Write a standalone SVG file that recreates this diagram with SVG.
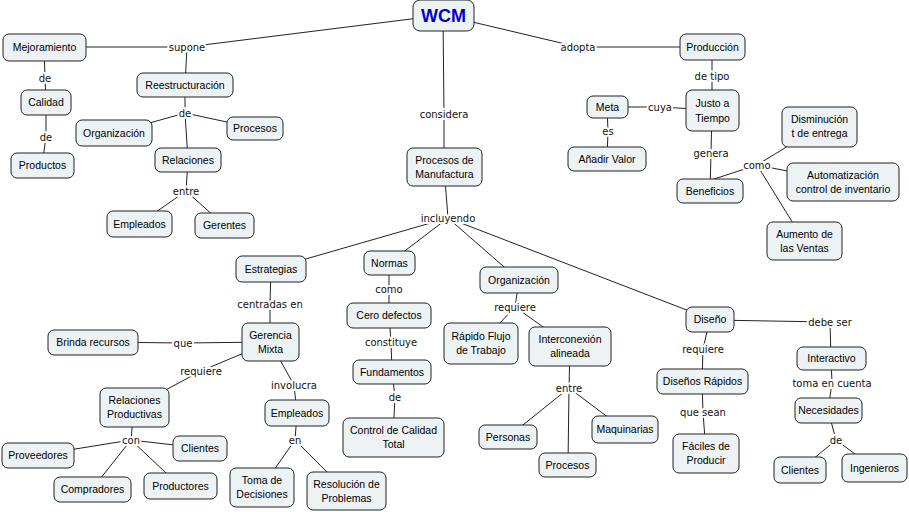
<svg xmlns="http://www.w3.org/2000/svg" width="909" height="512" viewBox="0 0 909 512">
<style>
.bg{fill:#ffffff}
.n rect{fill:#edf2f5;stroke:#222;stroke-width:1}
.n text{font-family:"Liberation Sans",Arial,sans-serif;font-size:10.5px;fill:#000;text-anchor:middle}
.c line,.c polyline{stroke:#222;stroke-width:1;fill:none}
.l{font-family:"DejaVu Sans",Verdana,sans-serif;font-size:10px;fill:#111;text-anchor:middle;paint-order:stroke;stroke:#fff;stroke-width:4px;stroke-linejoin:round}
#wcm text{font-size:18px;font-weight:bold;fill:#0000cc}
</style>
<rect class="bg" x="0" y="0" width="909" height="512"/>
<g id="connectors" class="c">
<polyline points="443,15 187,47 44,47"/>
<line x1="187" y1="47" x2="185" y2="85"/>
<polyline points="443,15 444,114 444,167"/>
<polyline points="443,15 578,47 712,47"/>
<polyline points="44,47 45,78 46,102"/>
<polyline points="46,102 46,137 42,165"/>
<line x1="185" y1="85" x2="185" y2="113"/>
<line x1="185" y1="113" x2="114" y2="133"/>
<line x1="185" y1="113" x2="255" y2="128"/>
<line x1="185" y1="113" x2="188" y2="160"/>
<line x1="188" y1="160" x2="186" y2="191"/>
<line x1="186" y1="191" x2="139" y2="224"/>
<line x1="186" y1="191" x2="224" y2="225"/>
<polyline points="712,47 712,76 712,110"/>
<polyline points="712,110 660,107 607,107"/>
<polyline points="607,107 608,131 607,159"/>
<polyline points="712,110 711,153 710,191"/>
<line x1="711" y1="180" x2="757" y2="165"/>
<line x1="757" y1="165" x2="819" y2="127"/>
<line x1="757" y1="165" x2="843" y2="182"/>
<line x1="757" y1="165" x2="804" y2="241"/>
<line x1="444" y1="167" x2="448" y2="218"/>
<line x1="448" y1="218" x2="271" y2="269"/>
<line x1="448" y1="218" x2="389" y2="263"/>
<line x1="448" y1="218" x2="519" y2="280"/>
<line x1="448" y1="218" x2="710" y2="319"/>
<polyline points="271,269 270,304 270,342"/>
<polyline points="270,342 183,343 93,342"/>
<polyline points="270,342 201,371 134,407"/>
<polyline points="270,342 294,385 297,413"/>
<line x1="134" y1="407" x2="131" y2="440"/>
<line x1="131" y1="440" x2="38" y2="455"/>
<line x1="131" y1="440" x2="200" y2="448"/>
<line x1="131" y1="440" x2="92" y2="489"/>
<line x1="131" y1="440" x2="180" y2="486"/>
<line x1="297" y1="413" x2="295" y2="440"/>
<line x1="295" y1="440" x2="262" y2="487"/>
<line x1="295" y1="440" x2="346" y2="491"/>
<polyline points="389,263 389,289 389,315"/>
<polyline points="389,315 391,342 392,372"/>
<polyline points="392,372 395,397 393,437"/>
<line x1="519" y1="280" x2="515" y2="307"/>
<line x1="515" y1="307" x2="481" y2="343"/>
<line x1="515" y1="307" x2="570" y2="346"/>
<line x1="570" y1="346" x2="569" y2="388"/>
<line x1="569" y1="388" x2="508" y2="437"/>
<line x1="569" y1="388" x2="568" y2="465"/>
<line x1="569" y1="388" x2="625" y2="430"/>
<polyline points="710,319 703,349 702,381"/>
<polyline points="702,381 703,412 706,453"/>
<polyline points="710,320 830,322 831,358"/>
<polyline points="831,358 832,383 828,410"/>
<line x1="828" y1="410" x2="836" y2="440"/>
<line x1="836" y1="440" x2="800" y2="470"/>
<line x1="836" y1="440" x2="874" y2="468"/>
</g>
<g id="labels">
<text class="l" x="187" y="51">supone</text>
<text class="l" x="444" y="118">considera</text>
<text class="l" x="578" y="51">adopta</text>
<text class="l" x="45" y="82">de</text>
<text class="l" x="46" y="141">de</text>
<text class="l" x="185" y="117">de</text>
<text class="l" x="186" y="195">entre</text>
<text class="l" x="712" y="80">de tipo</text>
<text class="l" x="660" y="111">cuya</text>
<text class="l" x="608" y="135">es</text>
<text class="l" x="711" y="157">genera</text>
<text class="l" x="757" y="169">como</text>
<text class="l" x="448" y="222">incluyendo</text>
<text class="l" x="270" y="308">centradas en</text>
<text class="l" x="183" y="347">que</text>
<text class="l" x="201" y="375">requiere</text>
<text class="l" x="294" y="389">involucra</text>
<text class="l" x="131" y="444">con</text>
<text class="l" x="295" y="444">en</text>
<text class="l" x="389" y="293">como</text>
<text class="l" x="391" y="346">constituye</text>
<text class="l" x="395" y="401">de</text>
<text class="l" x="515" y="311">requiere</text>
<text class="l" x="569" y="392">entre</text>
<text class="l" x="703" y="353">requiere</text>
<text class="l" x="703" y="416">que sean</text>
<text class="l" x="830" y="326">debe ser</text>
<text class="l" x="832" y="387">toma en cuenta</text>
<text class="l" x="836" y="444">de</text>
</g>
<g id="wcm" class="n"><rect x="413" y="0" width="61" height="31" rx="7"/><text x="443.5" y="22">WCM</text></g>
<g id="mejoramiento" class="n"><rect x="3" y="34" width="83" height="27" rx="6"/><text x="44.5" y="51">Mejoramiento</text></g>
<g id="calidad" class="n"><rect x="21" y="90" width="50" height="25" rx="6"/><text x="46" y="106">Calidad</text></g>
<g id="productos" class="n"><rect x="11" y="153" width="63" height="25" rx="6"/><text x="42.5" y="169">Productos</text></g>
<g id="reestructuracion" class="n"><rect x="137" y="73" width="96" height="24" rx="6"/><text x="185" y="89">Reestructuración</text></g>
<g id="organizacion1" class="n"><rect x="76" y="120" width="76" height="26" rx="6"/><text x="114" y="137">Organización</text></g>
<g id="procesos1" class="n"><rect x="227" y="117" width="56" height="23" rx="6"/><text x="255" y="132">Procesos</text></g>
<g id="relaciones" class="n"><rect x="155" y="148" width="66" height="24" rx="6"/><text x="188" y="164">Relaciones</text></g>
<g id="empleados1" class="n"><rect x="107" y="211" width="65" height="26" rx="6"/><text x="139.5" y="228">Empleados</text></g>
<g id="gerentes" class="n"><rect x="195" y="213" width="59" height="25" rx="6"/><text x="224.5" y="229">Gerentes</text></g>
<g id="procesos-manufactura" class="n"><rect x="407" y="148" width="75" height="38" rx="6"/><text x="444.5" y="164">Procesos de</text><text x="444.5" y="178">Manufactura</text></g>
<g id="produccion" class="n"><rect x="680" y="34" width="65" height="26" rx="6"/><text x="712.5" y="51">Producción</text></g>
<g id="justo" class="n"><rect x="686" y="90" width="53" height="41" rx="6"/><text x="712.5" y="107">Justo a</text><text x="712.5" y="122">Tiempo</text></g>
<g id="meta" class="n"><rect x="587" y="96" width="41" height="22" rx="6"/><text x="607.5" y="111">Meta</text></g>
<g id="anadir" class="n"><rect x="568" y="147" width="78" height="24" rx="6"/><text x="607" y="163">Añadir Valor</text></g>
<g id="beneficios" class="n"><rect x="677" y="179" width="66" height="24" rx="6"/><text x="710" y="195">Beneficios</text></g>
<g id="disminucion" class="n"><rect x="782" y="107" width="75" height="40" rx="6"/><text x="819.5" y="123">Disminución</text><text x="819.5" y="137">t de entrega</text></g>
<g id="automatizacion" class="n"><rect x="787" y="163" width="112" height="38" rx="6"/><text x="843" y="179">Automatización</text><text x="843" y="193">control de inventario</text></g>
<g id="aumento" class="n"><rect x="767" y="222" width="75" height="38" rx="6"/><text x="804.5" y="238">Aumento de</text><text x="804.5" y="252">las Ventas</text></g>
<g id="estrategias" class="n"><rect x="236" y="256" width="70" height="26" rx="6"/><text x="271" y="273">Estrategias</text></g>
<g id="gerencia" class="n"><rect x="242" y="323" width="57" height="38" rx="6"/><text x="270.5" y="339">Gerencia</text><text x="270.5" y="353">Mixta</text></g>
<g id="brinda" class="n"><rect x="48" y="330" width="90" height="25" rx="6"/><text x="93" y="346">Brinda recursos</text></g>
<g id="relaciones-productivas" class="n"><rect x="100" y="388" width="69" height="39" rx="6"/><text x="134.5" y="404">Relaciones</text><text x="134.5" y="418">Productivas</text></g>
<g id="empleados2" class="n"><rect x="265" y="400" width="64" height="26" rx="6"/><text x="297" y="417">Empleados</text></g>
<g id="proveedores" class="n"><rect x="2" y="443" width="72" height="25" rx="6"/><text x="38" y="459">Proveedores</text></g>
<g id="clientes1" class="n"><rect x="173" y="436" width="54" height="25" rx="6"/><text x="200" y="452">Clientes</text></g>
<g id="compradores" class="n"><rect x="54" y="477" width="77" height="25" rx="6"/><text x="92.5" y="493">Compradores</text></g>
<g id="productores" class="n"><rect x="144" y="473" width="73" height="26" rx="6"/><text x="180.5" y="490">Productores</text></g>
<g id="toma" class="n"><rect x="230" y="468" width="64" height="39" rx="6"/><text x="262" y="484">Toma de</text><text x="262" y="498">Decisiones</text></g>
<g id="resolucion" class="n"><rect x="307" y="472" width="79" height="38" rx="6"/><text x="346.5" y="488">Resolución de</text><text x="346.5" y="502">Problemas</text></g>
<g id="normas" class="n"><rect x="364" y="251" width="51" height="24" rx="6"/><text x="389.5" y="267">Normas</text></g>
<g id="cero" class="n"><rect x="347" y="303" width="84" height="25" rx="6"/><text x="389" y="319">Cero defectos</text></g>
<g id="fundamentos" class="n"><rect x="353" y="360" width="78" height="24" rx="6"/><text x="392" y="376">Fundamentos</text></g>
<g id="control" class="n"><rect x="343" y="418" width="101" height="39" rx="6"/><text x="393.5" y="434">Control de Calidad</text><text x="393.5" y="448">Total</text></g>
<g id="organizacion2" class="n"><rect x="480" y="267" width="78" height="26" rx="6"/><text x="519" y="284">Organización</text></g>
<g id="rapido" class="n"><rect x="444" y="323" width="74" height="41" rx="6"/><text x="481" y="340">Rápido Flujo</text><text x="481" y="354">de Trabajo</text></g>
<g id="interconexion" class="n"><rect x="529" y="327" width="82" height="39" rx="6"/><text x="570" y="343">Interconexión</text><text x="570" y="357">alineada</text></g>
<g id="personas" class="n"><rect x="479" y="425" width="58" height="24" rx="6"/><text x="508" y="441">Personas</text></g>
<g id="procesos2" class="n"><rect x="539" y="453" width="57" height="24" rx="6"/><text x="567.5" y="469">Procesos</text></g>
<g id="maquinarias" class="n"><rect x="592" y="416" width="66" height="27" rx="6"/><text x="625" y="433">Maquinarias</text></g>
<g id="diseno" class="n"><rect x="686" y="307" width="48" height="25" rx="6"/><text x="710" y="323">Diseño</text></g>
<g id="disenos-rapidos" class="n"><rect x="657" y="369" width="91" height="25" rx="6"/><text x="702.5" y="385">Diseños Rápidos</text></g>
<g id="faciles" class="n"><rect x="673" y="434" width="66" height="39" rx="6"/><text x="706" y="450">Fáciles de</text><text x="706" y="464">Producir</text></g>
<g id="interactivo" class="n"><rect x="797" y="347" width="69" height="23" rx="6"/><text x="831.5" y="362">Interactivo</text></g>
<g id="necesidades" class="n"><rect x="795" y="398" width="67" height="25" rx="6"/><text x="828.5" y="414">Necesidades</text></g>
<g id="clientes2" class="n"><rect x="774" y="457" width="52" height="26" rx="6"/><text x="800" y="474">Clientes</text></g>
<g id="ingenieros" class="n"><rect x="842" y="454" width="65" height="28" rx="6"/><text x="874.5" y="472">Ingenieros</text></g>
</svg>
